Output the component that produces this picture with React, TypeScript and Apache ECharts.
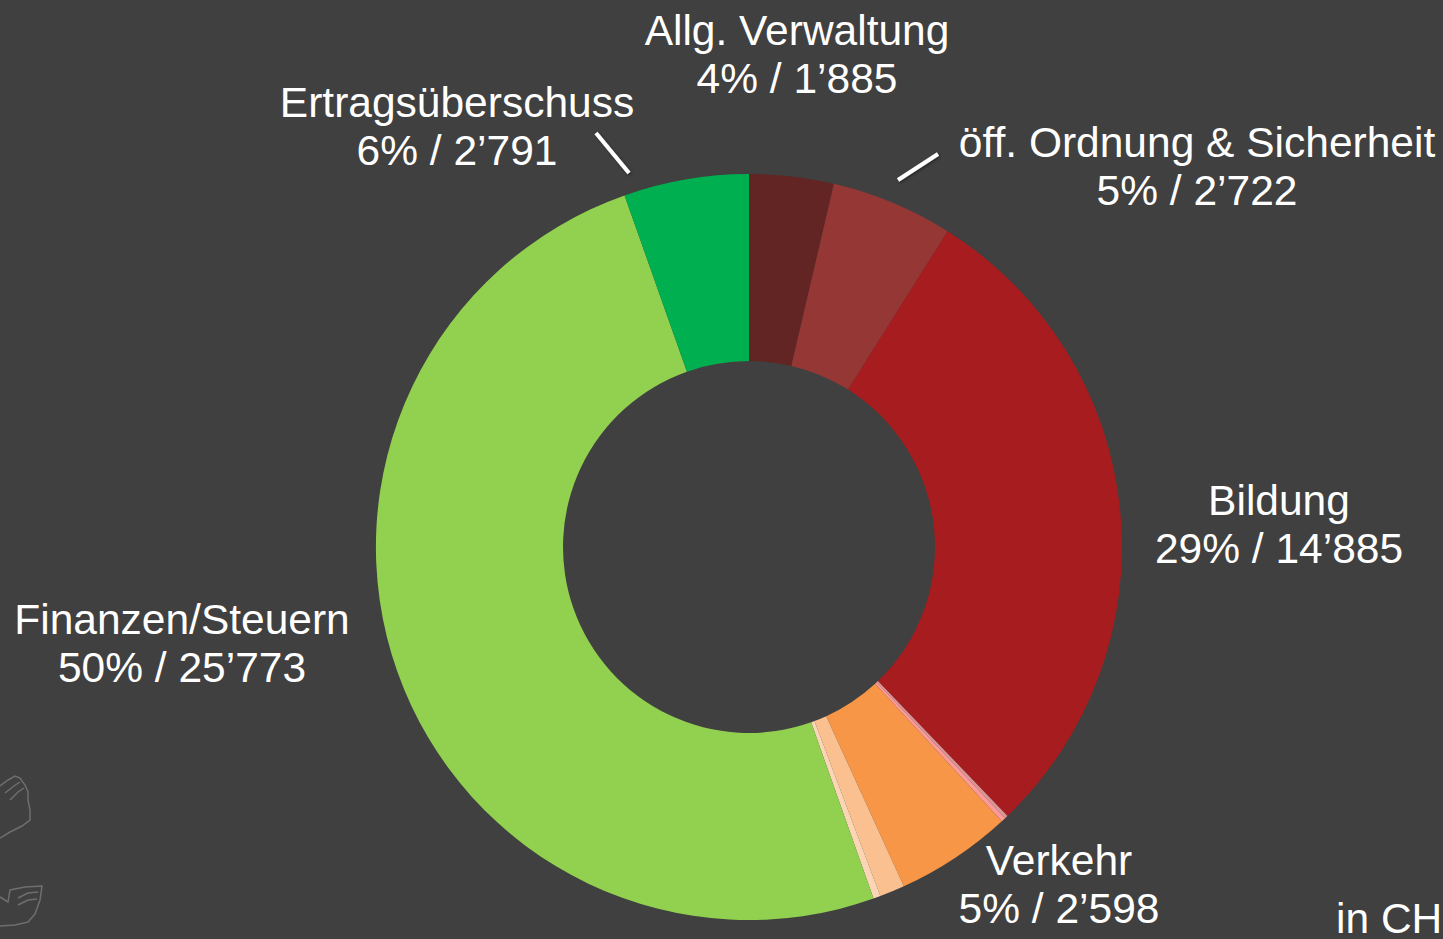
import React, { useEffect, useRef } from "react";
import * as echarts from "echarts";

// Data (clockwise from 12 o'clock)
const categories = [
  "Allg. Verwaltung",
  "öff. Ordnung & Sicherheit",
  "Bildung",
  "Kultur",
  "Gesundheit",
  "Verkehr",
  "Umwelt",
  "Volkswirtschaft",
  "Finanzen/Steuern",
  "Ertragsüberschuss",
];
const values = [1885, 2722, 14885, 70, 100, 2598, 560, 160, 25773, 2791];
const percentLabels = ["4%", "5%", "29%", "", "", "5%", "", "", "50%", "6%"];
const valueLabels = ["1’885", "2’722", "14’885", "", "", "2’598", "", "", "25’773", "2’791"];
const showLabel = [true, true, true, false, false, true, false, false, true, true];
const colors = [
  "#632523",
  "#953735",
  "#A61C1F",
  "#D99694",
  "#FF9999",
  "#F79646",
  "#FAC090",
  "#FCD5B4",
  "#92D050",
  "#00B050",
];
const unitText = "in CHF";

// label layout (centre of each label block)
const labelPos: Record<number, [number, number]> = {
  0: [797, 54],
  1: [1197, 166],
  2: [1279, 524],
  5: [1059, 884],
  8: [182, 643],
  9: [457, 126],
};

const leaderLines: [number, number, number, number][] = [
  [596, 133, 629, 173],
  [785, 110, 785, 153],
  [938, 154, 898, 180],
];

export default function App() {
  const ref = useRef<HTMLDivElement>(null);
  useEffect(() => {
    if (!ref.current) return;
    document.body.style.margin = "0";
    const chart = echarts.init(ref.current, undefined, { renderer: "svg" });
    const font = "'Liberation Sans', Arial, sans-serif";
    const grey = "#6E6E6E";
    chart.setOption({
      animation: false,
      backgroundColor: "#404040",
      series: [
        {
          type: "pie",
          center: [749, 547],
          radius: [186, 373],
          startAngle: 90,
          clockwise: true,
          avoidLabelOverlap: false,
          itemStyle: { borderWidth: 0 },
          emphasis: { disabled: true },
          label: {
            show: true,
            position: "outside",
            color: "#FFFFFF",
            fontFamily: font,
            fontSize: 42.5,
            lineHeight: 48,
            align: "center",
            formatter: (p: any) =>
              `${categories[p.dataIndex]}\n${percentLabels[p.dataIndex]} / ${valueLabels[p.dataIndex]}`,
          },
          labelLine: { show: false },
          labelLayout: (p: any) => {
            const pos = labelPos[p.dataIndex];
            if (!pos) return {};
            return { x: pos[0], y: pos[1], align: "center", verticalAlign: "middle" };
          },
          data: values.map((v, i) => ({
            name: categories[i],
            value: v,
            itemStyle: { color: colors[i] },
            label: { show: showLabel[i] },
          })),
        },
      ],
      graphic: [
        ...leaderLines.map((l) => ({
          type: "line",
          shape: { x1: l[0], y1: l[1], x2: l[2], y2: l[3] },
          style: {
            stroke: "#FFFFFF",
            lineWidth: 4,
            shadowColor: "rgba(0,0,0,0.5)",
            shadowBlur: 3,
            shadowOffsetX: 1,
            shadowOffsetY: 1,
          },
        })),
        {
          type: "text",
          left: 1336,
          top: 897,
          style: { text: unitText, fill: "#FFFFFF", font: `42.5px ${font}` },
        },
        // faint decorative icons at the left edge
        {
          type: "polyline",
          shape: {
            points: [
              [0, 786], [8, 780], [15, 776], [20, 778], [25, 785], [28, 792],
              [28, 800], [30, 810], [30, 820], [22, 826], [10, 832], [0, 838],
            ],
          },
          style: { stroke: grey, lineWidth: 1.5, fill: null },
        },
        {
          type: "polyline",
          shape: { points: [[5, 793], [14, 786], [20, 782]] },
          style: { stroke: grey, lineWidth: 1.5, fill: null },
        },
        {
          type: "polyline",
          shape: { points: [[10, 800], [18, 792], [24, 788]] },
          style: { stroke: grey, lineWidth: 1.5, fill: null },
        },
        {
          type: "polyline",
          shape: {
            points: [
              [0, 897], [8, 902], [10, 890], [25, 887], [42, 886], [40, 900],
              [35, 914], [28, 922], [15, 925], [0, 926],
            ],
          },
          style: { stroke: grey, lineWidth: 1.5, fill: null },
        },
        {
          type: "polyline",
          shape: { points: [[18, 898], [28, 893], [38, 892]] },
          style: { stroke: grey, lineWidth: 1.5, fill: null },
        },
        {
          type: "polyline",
          shape: { points: [[18, 905], [28, 900], [37, 899]] },
          style: { stroke: grey, lineWidth: 1.5, fill: null },
        },
      ],
    });
    return () => chart.dispose();
  }, []);
  return (
    <div
      ref={ref}
      style={{ position: "fixed", left: 0, top: 0, width: 1443, height: 939 }}
    />
  );
}
